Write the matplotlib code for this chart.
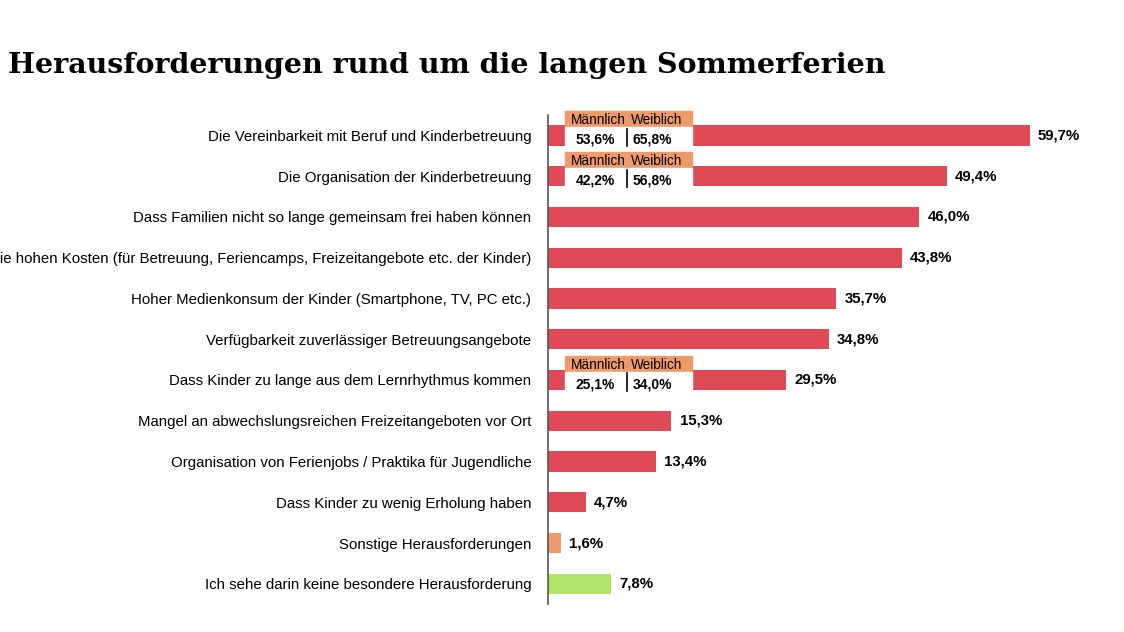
import matplotlib.pyplot as plt
from matplotlib.patches import Rectangle

categories = [
    'Die Vereinbarkeit mit Beruf und Kinderbetreuung',
    'Die Organisation der Kinderbetreuung',
    'Dass Familien nicht so lange gemeinsam frei haben können',
    'Die hohen Kosten (für Betreuung, Feriencamps, Freizeitangebote etc. der Kinder)',
    'Hoher Medienkonsum der Kinder (Smartphone, TV, PC etc.)',
    'Verfügbarkeit zuverlässiger Betreuungsangebote',
    'Dass Kinder zu lange aus dem Lernrhythmus kommen',
    'Mangel an abwechslungsreichen Freizeitangeboten vor Ort',
    'Organisation von Ferienjobs / Praktika für Jugendliche',
    'Dass Kinder zu wenig Erholung haben',
    'Sonstige Herausforderungen',
    'Ich sehe darin keine besondere Herausforderung',
]
values = [59.7, 49.4, 46.0, 43.8, 35.7, 34.8, 29.5, 15.3, 13.4, 4.7, 1.6, 7.8]

# gender split shown for some rows: row index -> (männlich, weiblich)
split_rows = [0, 1, 6]
maennlich = [53.6, 42.2, 25.1]
weiblich = [65.8, 56.8, 34.0]

red = '#E04A57'
orange = '#EF9A6A'
green = '#B1E36A'
colors = [red] * 10 + [orange, green]

def fmt(v):
    return f'{v:.1f}%'.replace('.', ',')

fig = plt.figure(figsize=(11.24, 6.32), dpi=100)
ax = fig.add_axes([0.4875, 0.044, 0.5, 0.774])

y = list(range(len(categories)))
ax.barh(y, values, height=0.5, color=colors)
ax.set_ylim(len(categories) - 0.5, -0.5)
ax.set_xlim(0, 69.6)

for yi, v in zip(y, values):
    ax.text(v + 1.0, yi, fmt(v), va='center', ha='left', fontsize=10.8,
            fontweight='bold', family='Liberation Sans')

ax.set_yticks(y)
ax.set_yticklabels(categories, fontsize=10.8, family='Liberation Sans')
ax.tick_params(axis='y', length=0, pad=12)
ax.set_xticks([])
for s in ['top', 'right', 'bottom']:
    ax.spines[s].set_visible(False)
ax.spines['left'].set_color('#555555')
ax.spines['left'].set_linewidth(1.2)

# gender inset boxes
x0, w = 2.1, 15.7
for r, m, f in zip(split_rows, maennlich, weiblich):
    ax.add_patch(Rectangle((x0, r - 0.6), w, 0.4, color=orange, zorder=3,
                           clip_on=False))
    ax.add_patch(Rectangle((x0, r - 0.2), w, 0.5, color='white', zorder=3))
    ax.text(x0 + w * 0.26, r - 0.37, 'Männlich', ha='center', va='center',
            fontsize=9.8, family='Liberation Sans', zorder=4)
    ax.text(x0 + w * 0.72, r - 0.37, 'Weiblich', ha='center', va='center',
            fontsize=9.8, family='Liberation Sans', zorder=4)
    ax.text(x0 + w * 0.24, r + 0.1, fmt(m), ha='center', va='center',
            fontsize=10, fontweight='bold', family='Liberation Sans', zorder=4)
    ax.text(x0 + w * 0.69, r + 0.1, fmt(f), ha='center', va='center',
            fontsize=10, fontweight='bold', family='Liberation Sans', zorder=4)
    ax.plot([x0 + w * 0.49, x0 + w * 0.49], [r - 0.16, r + 0.27], color='black',
            lw=1.2, zorder=4)

fig.text(0.007, 0.8845, 'Herausforderungen rund um die langen Sommerferien',
         fontsize=20.5, fontweight='bold', family='DejaVu Serif', va='baseline')

fig.savefig('out.png', dpi=100)
